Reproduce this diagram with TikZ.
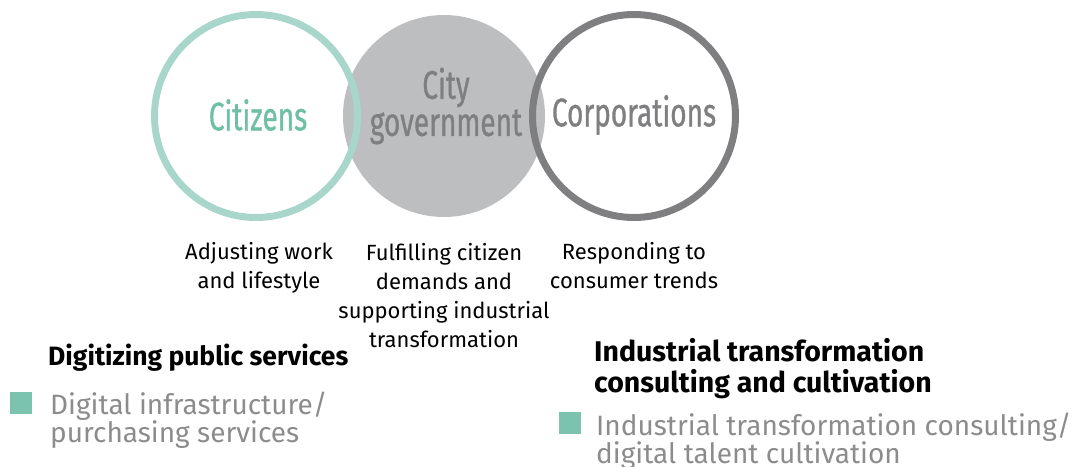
\documentclass[tikz,border=0pt]{standalone}
\usepackage{fontspec}
\setmainfont{Fira Sans}
\newfontfamily\condfont[FakeStretch=0.7,FakeBold=0.8]{Fira Sans}
\usetikzlibrary{positioning}
\definecolor{ringteal}{HTML}{A9D6CB}
\definecolor{textteal}{HTML}{6FBFA6}
\definecolor{boxteal}{HTML}{7CC3AF}
\definecolor{govgray}{HTML}{BDBEC0}
\definecolor{ringgray}{HTML}{7F7F81}
\definecolor{leggray}{HTML}{8C8C8C}

\begin{document}
\begin{tikzpicture}
[x=1pt,y=-1pt,
ring/.style={circle,line width=7pt,minimum size=203pt,inner sep=0pt},
big/.style={font=\condfont\fontsize{40}{37}\selectfont,align=center,inner sep=0pt},
lbl/.style={font=\fontsize{22}{29}\selectfont,align=center,anchor=base,inner sep=0pt},
head/.style={font=\bfseries\fontsize{26.5}{31}\selectfont,align=left,anchor=base west,inner sep=0pt},
leg/.style={font=\fontsize{28}{28}\selectfont,text=leggray,align=left,anchor=base west,inner sep=0pt},
sq/.style={fill=boxteal,minimum size=22pt,inner sep=0pt}]
\useasboundingbox (0,0) rectangle (1083,466);
% circles
\node[circle,fill=govgray,minimum size=202pt,inner sep=0pt] (gov) at (444,116) {};
\node[ring,draw=ringteal] (cit) at (256,116) {};
\node[ring,draw=ringgray] (corp) at (634,116) {};
\node[big,text=textteal] (citt) at (258,115) {Citizens};
\node[big,text=ringgray] (govt) at (446,106) {City\\government};
\node[big,text=ringgray] (corpt) at (634,115) {Corporations};
% labels
\node[lbl] (citl) at (259,288) {Adjusting work\\and lifestyle};
\node[lbl] (govl) at (444,347) {Fulfilling citizen\\demands and\\supporting industrial\\transformation};
\node[lbl] (corpl) at (634,288) {Responding to\\consumer trends};
% services
\node[head] (h1) at (48,365) {Digitizing public services};
\node[head,font=\bfseries\fontsize{28.5}{31}\selectfont] (h2) at (594,392) {Industrial transformation\\consulting and cultivation};
\node[sq] (s1) at (21,403) {};
\node[leg] (l1) at (50,442) {Digital infrastructure/\\purchasing services};
\node[sq] (s2) at (570,423) {};
\node[leg] (l2) at (596,463) {Industrial transformation consulting/\\digital talent cultivation};
\end{tikzpicture}
\end{document}
